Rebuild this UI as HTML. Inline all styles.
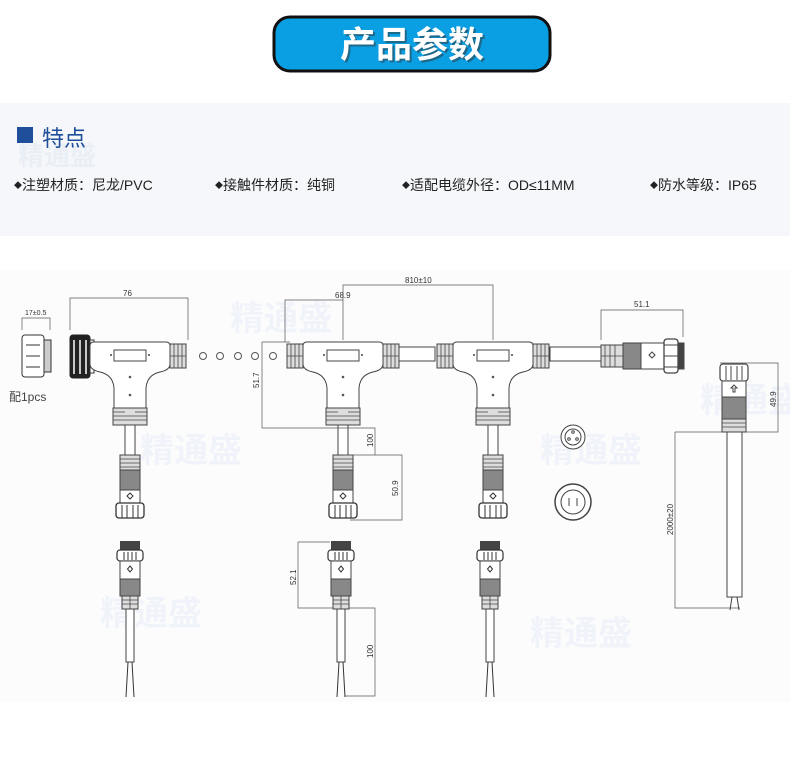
<!DOCTYPE html>
<html><head><meta charset="utf-8"><style>
body{margin:0;width:790px;height:776px;background:#fff;overflow:hidden;font-family:"Liberation Sans","Noto Sans CJK SC",sans-serif}
</style></head><body>
<svg width="790" height="776" viewBox="0 0 790 776" xmlns="http://www.w3.org/2000/svg" font-family="Liberation Sans, Noto Sans CJK SC, sans-serif">
<defs>
<g id="tb">
<path d="M-36,342 H36 Q40,342 40,346 V364 Q40,370 30,372 Q17,375 16,388 V408 H-16 V388 Q-17,375 -30,372 Q-40,370 -40,364 V346 Q-40,342 -36,342Z" fill="#fff" stroke="#444" stroke-width="1"/>
<rect x="-16" y="350" width="32" height="11" fill="#fff" stroke="#444"/>
<circle cx="-19" cy="355" r="1" fill="#444"/><circle cx="19" cy="355" r="1" fill="#444"/>
<circle cx="0" cy="377" r="1.3" fill="#555"/><circle cx="0" cy="395" r="1.3" fill="#555"/>
<rect x="-17" y="408" width="34" height="17" fill="#ddd" stroke="#444"/>
<path d="M-17,412H-5M5,412H17M-17,416H17M-17,420H17" stroke="#444" stroke-width="0.8"/>
<rect x="-5" y="425" width="10" height="30" fill="#fff" stroke="#444"/>
<rect x="-10" y="455" width="20" height="15" fill="#ddd" stroke="#444"/>
<path d="M-10,459H10M-10,463H10M-10,467H10" stroke="#444" stroke-width="0.8"/>
<rect x="-10" y="470" width="20" height="20" fill="#888" stroke="#444"/>
<rect x="-10" y="490" width="20" height="13" fill="#fff" stroke="#444"/>
<path d="M0,493L3,496L0,499L-3,496Z" fill="none" stroke="#333"/>
<rect x="-14" y="503" width="28" height="15" rx="3" fill="#fff" stroke="#333" stroke-width="1.3"/>
<path d="M-8,505V518M-3,505V518M3,505V518M8,505V518" stroke="#333"/>
</g>
<g id="rib">
<rect x="0" y="344" width="16" height="24" fill="#ddd" stroke="#444"/>
<path d="M4,344V368M8,344V368M12,344V368M0,356H16" stroke="#444" stroke-width="0.8"/>
</g>
<g id="bc">
<rect x="-10" y="541" width="20" height="10" fill="#444"/>
<rect x="-13" y="550" width="26" height="11" rx="3" fill="#fff" stroke="#333" stroke-width="1.2"/>
<path d="M-6,552V560M-2,552V560M2,552V560M6,552V560" stroke="#333"/>
<rect x="-10" y="561" width="20" height="18" fill="#fff" stroke="#444"/>
<path d="M0,566L2.5,569L0,572L-2.5,569Z" fill="none" stroke="#333"/>
<rect x="-10" y="579" width="20" height="17" fill="#888" stroke="#444"/>
<rect x="-8" y="596" width="16" height="13" fill="#ddd" stroke="#444"/>
<path d="M-8,600H8M-8,604H8M0,596V609" stroke="#444" stroke-width="0.8"/>
<rect x="-4" y="609" width="8" height="53" fill="#fff" stroke="#444"/>
<path d="M-2,662L-4,697M2,662L4,697" stroke="#333"/>
</g>
</defs>
<!-- title -->
<rect x="274" y="17" width="276" height="54" rx="16" fill="#0a9fe3" stroke="#111" stroke-width="3"/>
<text x="414" y="59" text-anchor="middle" font-size="36" font-weight="bold" fill="#333" font-family="Noto Sans CJK SC, sans-serif" opacity="0.5">产品参数</text>
<text x="412" y="57" text-anchor="middle" font-size="36" font-weight="bold" fill="#fff" font-family="Noto Sans CJK SC, sans-serif">产品参数</text>
<!-- features -->
<rect x="0" y="103" width="790" height="133" fill="#f5f7fa"/>
<text x="18" y="165" font-size="26" fill="#eaeff6" font-weight="bold">精通盛</text>
<rect x="17" y="127" width="16" height="16" fill="#1f4e9a"/>
<text x="42" y="146" font-size="22" fill="#1f4e9a">特点</text>
<g font-size="14" fill="#222">
<text x="14" y="190"><tspan font-size="8" dy="-2">◆</tspan><tspan dy="2">注塑材质：尼龙/PVC</tspan></text>
<text x="215" y="190"><tspan font-size="8" dy="-2">◆</tspan><tspan dy="2">接触件材质：纯铜</tspan></text>
<text x="402" y="190"><tspan font-size="8" dy="-2">◆</tspan><tspan dy="2">适配电缆外径：OD≤11MM</tspan></text>
<text x="650" y="190"><tspan font-size="8" dy="-2">◆</tspan><tspan dy="2">防水等级：IP65</tspan></text>
</g>
<!-- diagram bg -->
<rect x="0" y="270" width="790" height="432" fill="#fcfcfc"/>
<g font-size="34" fill="#f0f4fa" font-weight="bold">
<text x="140" y="462">精通盛</text><text x="540" y="462">精通盛</text><text x="700" y="412">精通盛</text>
<text x="100" y="625">精通盛</text><text x="530" y="645">精通盛</text><text x="230" y="330">精通盛</text>
</g>
<!-- small coupler -->
<g stroke="#333" fill="#fff">
<rect x="22" y="335" width="22" height="42" rx="3"/>
<rect x="44" y="340" width="7" height="32" fill="#ccc"/>
<path d="M26,345H40M26,356H40M26,367H40"/>
</g>
<text x="9" y="401" font-size="12" fill="#444">配1pcs</text>
<path d="M22,330V318H50V330" fill="none" stroke="#555" stroke-width="0.7"/>
<text x="25" y="315" font-size="7" fill="#333">17±0.5</text>
<!-- T1 -->
<rect x="70" y="335" width="20" height="43" rx="3" fill="#222" stroke="#222"/>
<path d="M74,340V374M80,340V374M86,340V374" stroke="#fff" stroke-width="1.5"/>
<rect x="90" y="340" width="4" height="33" fill="#fff" stroke="#333"/>
<use href="#tb" x="130"/><use href="#rib" x="170"/>
<!-- dots -->
<g fill="none" stroke="#555"><circle cx="203" cy="356" r="3.5"/><circle cx="220" cy="356" r="3.5"/><circle cx="238" cy="356" r="3.5"/><circle cx="255" cy="356" r="3.5"/><circle cx="273" cy="356" r="3.5"/></g>
<!-- T2, T3 -->
<rect x="397" y="347" width="38" height="14" fill="#fff" stroke="#444"/>
<rect x="550" y="347" width="52" height="14" fill="#fff" stroke="#444"/>
<use href="#tb" x="343"/><use href="#rib" x="287"/><use href="#rib" x="383"/>
<use href="#tb" x="493"/><use href="#rib" x="437"/><use href="#rib" x="533"/>
<!-- right connector -->
<g stroke="#444">
<rect x="601" y="345" width="22" height="22" fill="#ddd"/>
<path d="M605,345V367M610,345V367M615,345V367M601,356H623" stroke-width="0.8"/>
<rect x="623" y="343" width="18" height="26" fill="#888"/>
<rect x="641" y="343" width="23" height="26" fill="#fff"/>
<path d="M652,352L655,355L652,358L649,355Z" fill="none"/>
<rect x="664" y="339" width="14" height="34" rx="3" fill="#fff" stroke-width="1.3"/>
<path d="M664,345H678M664,356H678M664,367H678"/>
<rect x="678" y="343" width="6" height="26" fill="#444"/>
</g>
<!-- dims -->
<g stroke="#555" stroke-width="0.7" fill="none">
<path d="M70,330V298H188V340"/>
<path d="M285,342V300H343"/>
<path d="M343,340V285H493V340"/>
<path d="M262,342H290M262,342V428M262,428H343"/>
<path d="M343,428H375V455H343M375,455H402V520H350"/>
<path d="M601,340V310H683V337"/>
<path d="M720,363H778V432H740M778,363V432"/>
<path d="M675,432H727M675,432V608H740"/>
<path d="M298,542H330M298,542V608H375V696H345"/>
</g>
<g font-size="8" fill="#333">
<text x="123" y="296">76</text>
<text x="335" y="298">68.9</text>
<text x="405" y="283">810±10</text>
<text x="634" y="307">51.1</text>
<text transform="translate(259,388) rotate(-90)">51.7</text>
<text transform="translate(373,447) rotate(-90)">100</text>
<text transform="translate(398,496) rotate(-90)">50.9</text>
<text transform="translate(776,407) rotate(-90)">49.9</text>
<text transform="translate(673,535) rotate(-90)">2000±20</text>
<text transform="translate(296,585) rotate(-90)">52.1</text>
<text transform="translate(373,658) rotate(-90)">100</text>
</g>
<!-- right single -->
<g stroke="#444">
<rect x="720" y="364" width="28" height="17" rx="3" fill="#fff" stroke-width="1.2"/>
<path d="M726,366V380M731,366V380M737,366V380M742,366V380"/>
<rect x="722" y="381" width="24" height="16" fill="#fff"/>
<path d="M734,385L737,388H735V392H733V388H731Z" fill="none"/>
<rect x="722" y="397" width="24" height="22" fill="#888"/>
<rect x="722" y="419" width="24" height="13" fill="#ddd"/>
<path d="M722,423H746M722,427H746" stroke-width="0.8"/>
<rect x="727" y="432" width="15" height="165" fill="#fff"/>
<path d="M732,597L730,610M737,597L739,610"/>
</g>
<!-- socket faces -->
<g stroke="#444" fill="#fff">
<circle cx="573" cy="437" r="12"/><circle cx="573" cy="437" r="8"/>
<circle cx="569" cy="439" r="1.3"/><circle cx="577" cy="439" r="1.3"/><circle cx="573" cy="432" r="1.3"/>
<circle cx="573" cy="502" r="18" stroke-width="1.5"/><circle cx="573" cy="502" r="12"/>
<path d="M569,498V506M577,498V506"/>
</g>
<!-- bottom connectors -->
<use href="#bc" x="130"/><use href="#bc" x="341"/><use href="#bc" x="490"/>
</svg>
</body></html>
